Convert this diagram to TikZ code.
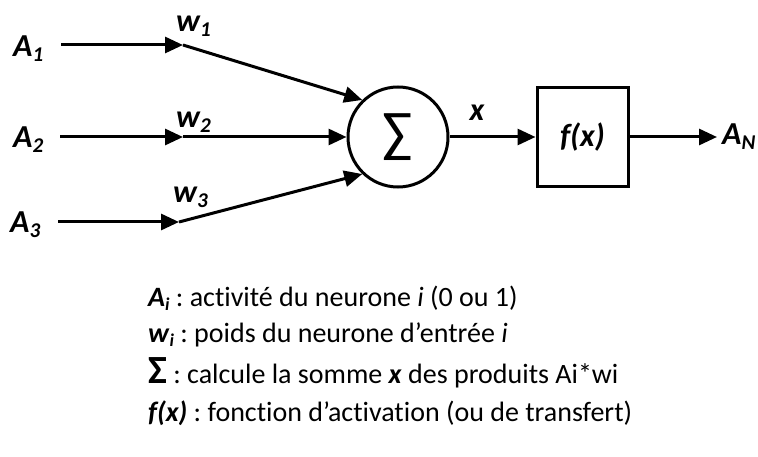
\documentclass[tikz,border=0pt]{standalone}
\usepackage{fontspec}
\setmainfont{Carlito}[Ligatures=NoCommon]
\usetikzlibrary{arrows.meta}
\frenchspacing
\newcommand\sbx[1]{\raisebox{-0.3ex}{\fontsize{21}{21}\selectfont #1}}
\newcommand\sbt[1]{\raisebox{-0.3ex}{\fontsize{18}{18}\selectfont\bfseries\itshape #1}}
\begin{document}
\begin{tikzpicture}[x=1pt,y=-1pt,
  lbl/.style={font=\fontsize{32}{36}\selectfont\bfseries\itshape, inner sep=0pt, anchor=base west},
  legend/.style={font=\fontsize{28}{32}\selectfont, inner sep=0pt, anchor=base west},
  arr/.style={line width=3pt, -{Triangle[length=18pt,width=16pt]}}]
\useasboundingbox (0,0) rectangle (758,457);
% input labels
\node[lbl] (a1) at (13,57) {A\sbx{1}};
\node[lbl] (a2) at (13,148) {A\sbx{2}};
\node[lbl] (a3) at (10,233) {A\sbx{3}};
% arrow start and junction coordinates
\coordinate (s1) at (61,45);
\coordinate (s2) at (60,137);
\coordinate (s3) at (58,222);
\coordinate (c1) at (183,45);
\coordinate (c2) at (183,137);
\coordinate (c3) at (179,222);
% weight labels
\node[lbl] (w1) at (176,32) {w\sbx{1}};
\node[lbl] (w2) at (176,128) {w\sbx{2}};
\node[lbl] (w3) at (173,203) {w\sbx{3}};
% summation node
\node[circle, draw, line width=3pt, minimum size=100pt, inner sep=0pt] (s) at (398,137) {};
\node[font=\fontsize{56}{56}\selectfont, inner sep=0pt] (sig) at (s.center) {∑};
% activation box
\node[draw, line width=3pt, minimum width=91pt, minimum height=99pt, inner sep=0pt] (f) at (582.5,137.5) {};
\node[font=\fontsize{32}{36}\selectfont\bfseries\itshape, inner sep=0pt] (fx) at (f.center) {f(x)};
\node[font=\fontsize{32}{36}\selectfont\bfseries\itshape, inner sep=0pt] (x) at (477,113) {x};
\coordinate (out) at (717,137);
\node[lbl] (an) at (722,145) {A\sbx{N}};
% connectors
\draw[arr] (s1) -- (c1);
\draw[arr] (s2) -- (c2);
\draw[arr] (s3) -- (c3);
\draw[arr] (c1) -- (s.134);
\draw[arr] (c2) -- (s.west);
\draw[arr] (c3) -- (s.226);
\draw[arr] (s.east) -- (f.west |- s.east);
\draw[arr] (f.east |- s.east) -- (out);
% legend
\node[legend] (l1) at (148,306) {\textbf{\textit{A}}\sbt{i} : activité du neurone \textit{i} (0 ou 1)};
\node[legend] (l2) at (148,342) {\textbf{\textit{w}}\sbt{i} : poids du neurone d’entrée \textit{i}};
\node[legend] (l3) at (148,383) {{\fontsize{40}{40}\selectfont\bfseries Σ} : calcule la somme \textbf{\textit{x}} des produits Ai*wi};
\node[legend] (l4) at (148,421) {\textbf{\textit{f(x)}} : fonction d’activation (ou de transfert)};
\end{tikzpicture}
\end{document}
